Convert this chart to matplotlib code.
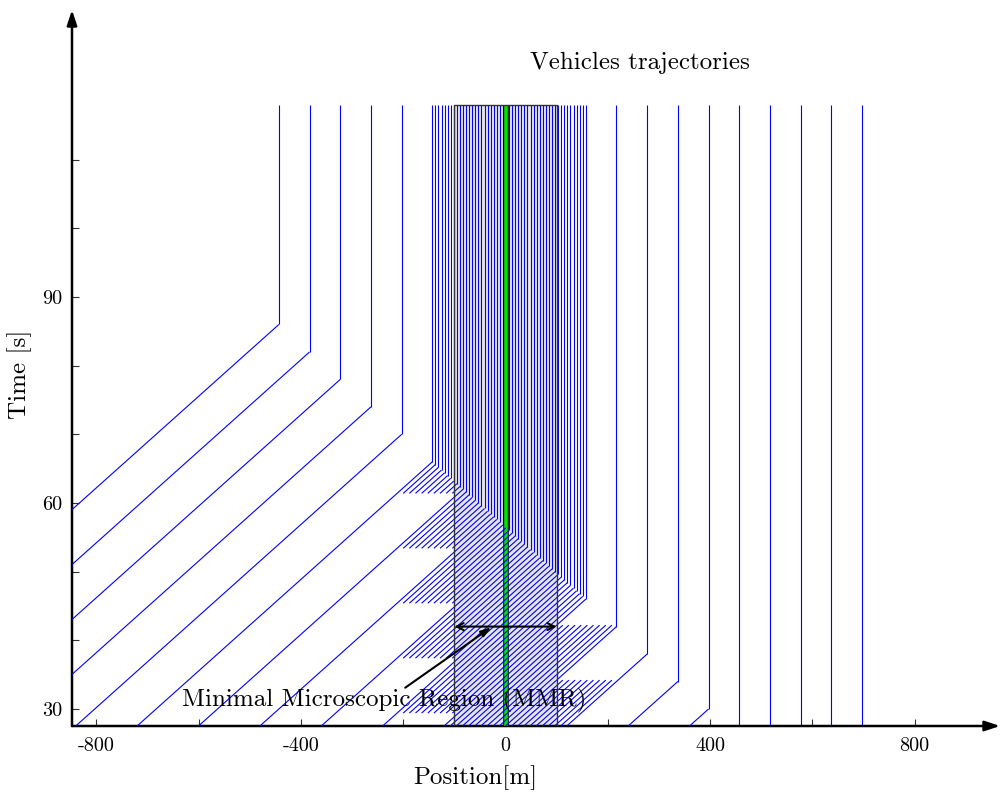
import matplotlib
matplotlib.use('Agg')
import matplotlib.pyplot as plt
from matplotlib.collections import LineCollection
from matplotlib.patches import Rectangle

plt.rcParams['font.family'] = 'cmr10'
plt.rcParams['axes.formatter.use_mathtext'] = True
plt.rcParams['mathtext.fontset'] = 'cm'

speed = 15.0            # free-flow speed [m/s]
t_stop_run = 118.0      # end of the simulated run [s]
mmr_left, mmr_right = -100.0, 100.0
buffer_left = -220.0    # upstream edge of the insertion zone [m]
signal_x = 1.0

# vehicles that are always drawn: where and when they join the queue
probe_stop_x = [697, 637, 577, 517, 457, 397, 337, 277, 217, 157,
                97, 37, -23, -83, -143, -203, -263, -323, -383, -443]
probe_stop_t = [10, 14, 18, 22, 26, 30, 34, 38, 42, 46,
                50, 54, 58, 62, 66, 70, 74, 78, 82, 86]

# vehicles only drawn while they are simulated microscopically
micro_stop_x = [271, 265, 259, 253, 247, 241, 235, 229, 223,
                211, 205, 199, 193, 187, 181, 175, 169, 163,
                151, 145, 139, 133, 127, 121, 115, 109, 103,
                91, 85, 79, 73, 67, 61, 55, 49, 43,
                31, 25, 19, 13, 7, 1, -5, -11, -17,
                -29, -35, -41, -47, -53, -59, -65, -71, -77,
                -89, -95, -101, -107, -113, -119, -125, -131, -137]
micro_stop_t = [38.4, 38.8, 39.2, 39.6, 40.0, 40.4, 40.8, 41.2, 41.6,
                42.4, 42.8, 43.2, 43.6, 44.0, 44.4, 44.8, 45.2, 45.6,
                46.4, 46.8, 47.2, 47.6, 48.0, 48.4, 48.8, 49.2, 49.6,
                50.4, 50.8, 51.2, 51.6, 52.0, 52.4, 52.8, 53.2, 53.6,
                54.4, 54.8, 55.2, 55.6, 56.0, 56.4, 56.8, 57.2, 57.6,
                58.4, 58.8, 59.2, 59.6, 60.0, 60.4, 60.8, 61.2, 61.6,
                62.4, 62.8, 63.2, 63.6, 64.0, 64.4, 64.8, 65.2, 65.6]

insert_times = [21.4, 29.4, 37.4, 45.4, 53.4, 61.4, 69.4]
drop_times = [26.2, 34.2, 42.2, 50.2, 58.2]

x_ticks = [-800, -600, -400, -200, 0, 200, 400, 600, 800]
x_labels = ['-800', '', '-400', '', '0', '', '400', '', '800']
t_ticks = [30, 40, 50, 60, 70, 80, 90, 100, 110]
t_labels = ['30', '', '', '60', '', '', '90', '', '']

xlim = (-847.5, 966.8)
tlim = (27.52, 131.8)


def position(xs, ts, t):
    if t < ts:
        return xs - speed * (ts - t)
    return xs


moving, stopped = [], []


def add_vehicle(xs, ts, t0, t1):
    if t0 < ts:
        tb = min(ts, t1)
        moving.append([(position(xs, ts, t0), t0), (position(xs, ts, tb), tb)])
    if t1 > ts:
        stopped.append([(xs, max(ts, t0)), (xs, t1)])


for xs, ts in zip(probe_stop_x, probe_stop_t):
    add_vehicle(xs, ts, tlim[0], t_stop_run)

for xs, ts in zip(micro_stop_x, micro_stop_t):
    t0 = tlim[0]
    for tk in insert_times:
        if tk < ts and buffer_left <= position(xs, ts, tk) < mmr_left:
            t0 = max(tk, tlim[0])
    t1 = t_stop_run
    if xs > mmr_right:
        t_out = ts - (xs - mmr_right) / speed
        later = [td for td in drop_times if td >= t_out]
        if later and later[0] < ts:
            t1 = later[0]
    add_vehicle(xs, ts, t0, t1)

fig = plt.figure(figsize=(10, 7.96), dpi=100)
ax = fig.add_axes([0.072, 70 / 796, 0.928, 716 / 796])
ax.set_xlim(*xlim)
ax.set_ylim(*tlim)

ax.add_patch(Rectangle((mmr_left, tlim[0]), mmr_right - mmr_left, t_stop_run - tlim[0],
                       facecolor='#e6e6e6', edgecolor='none', zorder=1))
ax.plot([mmr_left, mmr_left, mmr_right, mmr_right], [tlim[0], t_stop_run, t_stop_run, tlim[0]],
        color='#333333', lw=1.0, zorder=4.5)

ax.add_collection(LineCollection(stopped, colors='blue', linewidths=0.8, zorder=2))
ax.plot([signal_x, signal_x], [tlim[0], t_stop_run], color='black', lw=4.0,
        solid_capstyle='butt', zorder=3)
ax.plot([signal_x, signal_x], [tlim[0], t_stop_run], color='#00e600', lw=2.6,
        solid_capstyle='butt', zorder=3.1)
ax.add_collection(LineCollection(moving, colors='blue', linewidths=0.8, zorder=4))

# extent of the MMR and its label
ax.annotate('', xy=(mmr_right, 42), xytext=(mmr_left, 42),
            arrowprops=dict(arrowstyle='<->,head_length=0.5,head_width=0.25', lw=1.5,
                            color='black', shrinkA=0, shrinkB=0), zorder=6)
ax.annotate('', xy=(-28, 41.9), xytext=(-196, 33.1),
            arrowprops=dict(arrowstyle='-|>,head_length=0.6,head_width=0.2', lw=1.5,
                            color='black', shrinkA=0, shrinkB=0), zorder=6)
ax.text(-237, 31.3, 'Minimal Microscopic Region (MMR)', fontsize=18,
        ha='center', va='center', zorder=7)

for side in ax.spines.values():
    side.set_visible(False)
ax.annotate('', xy=(1.0, 0), xytext=(0, 0), xycoords='axes fraction',
            arrowprops=dict(arrowstyle='-|>,head_length=0.9,head_width=0.3', lw=1.8,
                            color='black', shrinkA=0, shrinkB=0), annotation_clip=False)
ax.annotate('', xy=(0, 1.0), xytext=(0, 0), xycoords='axes fraction',
            arrowprops=dict(arrowstyle='-|>,head_length=0.9,head_width=0.3', lw=1.8,
                            color='black', shrinkA=0, shrinkB=0), annotation_clip=False)

ax.set_xticks(x_ticks)
ax.set_xticklabels(x_labels)
ax.set_yticks(t_ticks)
ax.set_yticklabels(t_labels)
ax.tick_params(direction='in', length=5, width=0.8, labelsize=14.5, color='#333333')
ax.tick_params(axis='x', pad=8)
ax.tick_params(axis='y', pad=7)

fig.text(0.475, 1 - 778 / 796, 'Position[m]', fontsize=18, ha='center', va='center')
fig.text(0.020, 1 - 374 / 796, 'Time [s]', fontsize=18, ha='center', va='center', rotation=90)
fig.text(0.640, 1 - 63 / 796, 'Vehicles trajectories', fontsize=18, ha='center', va='center')

fig.savefig('out.png', dpi=100)
